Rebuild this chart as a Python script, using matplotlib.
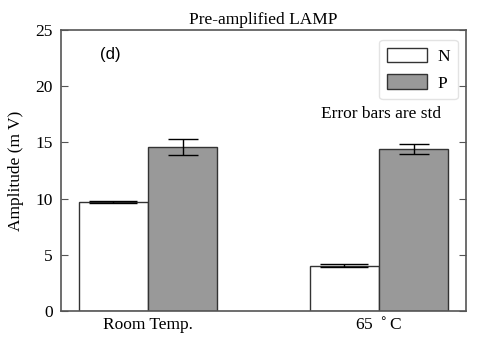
import numpy as np
import matplotlib
matplotlib.use("Agg")
import matplotlib.pyplot as plt

groups = ["Room Temp.", "65 $^\\circ$C"]
n_vals = [9.7, 4.03]
n_err = [0.12, 0.15]
p_vals = [14.6, 14.45]
p_err = [0.72, 0.45]

plt.rcParams['font.family'] = ['Liberation Serif', 'DejaVu Serif']

fig = plt.figure(figsize=(4.85, 3.45), dpi=100)
ax = fig.add_axes([61/485, 1-311/345, 405/485, 281/345])

x = np.arange(len(groups))
w = 0.3
edge = '#333333'
ax.bar(x - w/2, n_vals, w, color='white', edgecolor=edge, linewidth=1.0, label='N', zorder=2)
ax.bar(x + w/2, p_vals, w, color='#999999', edgecolor=edge, linewidth=1.0, label='P', zorder=2)
ax.errorbar(x - w/2, n_vals, yerr=n_err, fmt='none', ecolor='black', elinewidth=1.0, capsize=17, capthick=1.0, zorder=3)
ax.errorbar(x + w/2, p_vals, yerr=p_err, fmt='none', ecolor='black', elinewidth=1.0, capsize=10.5, capthick=1.0, zorder=3)

ax.set_xlim(-0.377, 1.377)
ax.set_ylim(0, 25)
ax.set_yticks([0, 5, 10, 15, 20, 25])
ax.set_xticks(x)
ax.set_xticklabels(groups)
ax.tick_params(axis='y', direction='in', right=True, length=5, color='#555555', labelsize=12.5, pad=6)
ax.tick_params(axis='x', length=0, labelsize=12.5, pad=4)
for s in ax.spines.values():
    s.set_color('#555555')
    s.set_linewidth(1.2)

ax.set_ylabel("Amplitude (m V)", fontsize=12.5, labelpad=8)
ax.set_title("Pre-amplified LAMP", fontsize=12.5, pad=4)
ax.text(0.096, 0.94, "(d)", transform=ax.transAxes, fontsize=12, family='Liberation Sans', va='top')
ax.text(0.938, 0.70, "Error bars are std", transform=ax.transAxes, fontsize=12.5, ha='right', va='center')

leg = ax.legend(loc='upper right', fontsize=12.5, handlelength=2.3, handleheight=0.9,
                handletextpad=0.6, frameon=True, fancybox=True, edgecolor='#dddddd',
                borderpad=0.45, labelspacing=0.55, borderaxespad=0,
                bbox_to_anchor=(0.98, 0.965))

fig.savefig("out.png", dpi=100)
